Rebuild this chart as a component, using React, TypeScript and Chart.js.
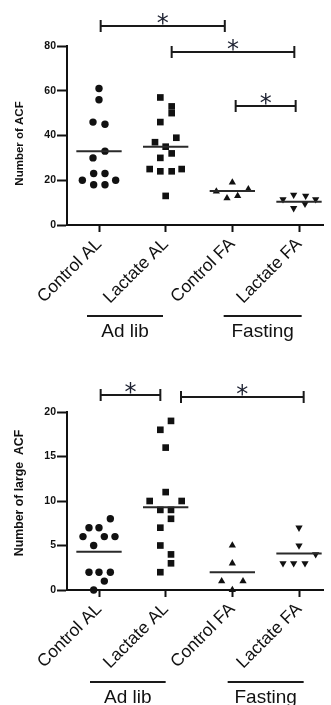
import React, { useEffect, useRef } from "react";
import { Chart, registerables } from "chart.js";

Chart.register(...registerables);

// ---------- data ----------
const categories = ["Control AL", "Lactate AL", "Control FA", "Lactate FA"];
const groupNames = ["Ad lib", "Fasting"];

// Chart 1: Number of ACF
const acfControlAL = [61, 56, 46, 45, 33, 30, 23, 23, 20, 20, 18, 18];
const acfLactateAL = [57, 53, 50, 46, 39, 37, 35, 32, 30, 25, 24, 24, 25, 13];
const acfControlFA = [19, 15, 16, 12, 13];
const acfLactateFA = [13.5, 11.5, 13, 11.5, 9.5, 7.5];
const acfMeans = [33, 35, 15.2, 10.4];
const acfYTicks = [0, 20, 40, 60, 80];

// horizontal jitter of each point (category units)
const acfJitterControlAL = [0, 0, -0.09, 0.09, 0.09, -0.09, -0.08, 0.09, -0.25, 0.25, -0.08, 0.09];
const acfJitterLactateAL = [-0.08, 0.09, 0.09, -0.08, 0.16, -0.16, 0, 0.09, -0.08, -0.24, -0.08, 0.09, 0.24, 0];
const acfJitterControlFA = [0, -0.24, 0.24, -0.08, 0.08];
const acfJitterLactateFA = [-0.08, -0.24, 0.1, 0.25, 0.09, -0.08];

// significance brackets: [from category, to category, y value]
const acfSig = [
  [1.025, 2.887, 89],
  [2.09, 3.93, 77.5],
  [3.05, 3.95, 53.4],
];

// Chart 2: Number of large ACF
const largeControlAL = [8, 7, 7, 6, 6, 6, 5, 2, 2, 2, 1, 0];
const largeLactateAL = [19, 18, 16, 11, 10, 10, 9, 9, 8, 7, 5, 4, 3, 2];
const largeControlFA = [5, 3, 1, 1, 0];
const largeLactateFA = [7, 5, 4, 3, 3, 3];
const largeMeans = [4.3, 9.3, 2.0, 4.1];
const largeYTicks = [0, 5, 10, 15, 20];

const largeJitterControlAL = [0.17, -0.15, 0, -0.24, 0.08, 0.24, -0.08, -0.15, 0, 0.17, 0.08, -0.08];
const largeJitterLactateAL = [0.08, -0.08, 0, 0, -0.24, 0.24, -0.08, 0.08, 0.08, -0.08, -0.08, 0.08, 0.08, -0.08];
const largeJitterControlFA = [0, 0, -0.16, 0.16, 0];
const largeJitterLactateFA = [0, 0, 0.25, -0.24, -0.08, 0.09];

const largeSig = [
  [1.025, 1.92, 21.9],
  [2.23, 4.07, 21.7],
];

// ---------- chart building ----------
const FONT = '"Liberation Sans", Arial, sans-serif';
const INK = "#111";

type Spec = {
  height: number;
  padTop: number;
  plotBottom: number;
  yMax: number;
  yTicks: number[];
  series: number[][];
  jitters: number[][];
  means: number[];
  sig: number[][];
  title: string;
  titleSize: number;
  titleX: number;
  titleY: number;
  groupSpans: number[][];
  groupOffset: number;
};

const styles = [
  { pointStyle: "circle", radius: 3.7, rotation: 0 },
  { pointStyle: "rect", radius: 4.7, rotation: 0 },
  { pointStyle: "triangle", radius: 4.2, rotation: 0 },
  { pointStyle: "triangle", radius: 4.2, rotation: 180 },
];

function buildConfig(spec: Spec): any {
  const datasets: any[] = [];
  spec.series.forEach((vals, i) => {
    const st = styles[i];
    datasets.push({
      type: "scatter",
      data: vals.map((v, j) => ({ x: i + 1 + spec.jitters[i][j], y: v })),
      pointStyle: st.pointStyle,
      pointRadius: st.radius,
      rotation: st.rotation,
      backgroundColor: INK,
      borderColor: INK,
      borderWidth: 0,
      clip: false,
      order: 1,
    });
  });
  spec.means.forEach((m, i) => {
    datasets.push({
      type: "line",
      data: [
        { x: i + 1 - 0.34, y: m },
        { x: i + 1 + 0.34, y: m },
      ],
      borderColor: "#2a2a2a",
      borderWidth: 2,
      pointRadius: 0,
      showLine: true,
      clip: false,
      order: 0,
    });
  });

  const annot = {
    id: "annot",
    afterDraw(chart: any) {
      const ctx = chart.ctx;
      const xs = chart.scales.x;
      const ys = chart.scales.y;
      const area = chart.chartArea;
      ctx.save();
      // significance brackets
      ctx.strokeStyle = "#1a1a1a";
      ctx.lineWidth = 2;
      spec.sig.forEach(([a, b, v]) => {
        const x1 = xs.getPixelForValue(a);
        const x2 = xs.getPixelForValue(b);
        const y = Math.round(ys.getPixelForValue(v));
        ctx.beginPath();
        ctx.moveTo(x1, y);
        ctx.lineTo(x2, y);
        ctx.moveTo(x1, y - 6);
        ctx.lineTo(x1, y + 6);
        ctx.moveTo(x2, y - 6);
        ctx.lineTo(x2, y + 6);
        ctx.stroke();
        ctx.font = '24px "DejaVu Sans", sans-serif';
        ctx.fillStyle = "#1c2030";
        ctx.textAlign = "center";
        ctx.textBaseline = "alphabetic";
        const m = ctx.measureText("*");
        const base = y - 1 - m.actualBoundingBoxDescent;
        ctx.fillText("*", (x1 + x2) / 2, base);
      });
      // group brackets
      const gy = area.bottom + spec.groupOffset;
      spec.groupSpans.forEach(([a, b], k) => {
        const x1 = xs.getPixelForValue(a);
        const x2 = xs.getPixelForValue(b);
        ctx.strokeStyle = "#1a1a1a";
        ctx.lineWidth = 2;
        ctx.beginPath();
        ctx.moveTo(x1, gy);
        ctx.lineTo(x2, gy);
        ctx.stroke();
        ctx.fillStyle = INK;
        ctx.font = `19px ${FONT}`;
        ctx.textAlign = "center";
        ctx.textBaseline = "alphabetic";
        ctx.fillText(groupNames[k], (x1 + x2) / 2, gy + 20.5);
      });
      // y title
      ctx.translate(spec.titleX, spec.titleY);
      ctx.rotate(-Math.PI / 2);
      ctx.font = `bold ${spec.titleSize}px ${FONT}`;
      ctx.fillStyle = INK;
      ctx.textAlign = "center";
      ctx.textBaseline = "middle";
      ctx.fillText(spec.title, 0, 0);
      ctx.restore();
    },
  };

  return {
    type: "scatter",
    data: { datasets },
    plugins: [annot],
    options: {
      animation: false,
      responsive: false,
      events: [],
      layout: { padding: { left: 0, right: 8, top: spec.padTop, bottom: 0 } },
      plugins: {
        legend: { display: false },
        tooltip: { enabled: false },
        title: { display: false },
      },
      scales: {
        x: {
          type: "linear",
          min: 0.52,
          max: 4.36,
          afterBuildTicks: (s: any) => {
            s.ticks = categories.map((_, i) => ({ value: i + 1 }));
          },
          afterFit: (s: any) => {
            s.height = spec.height - spec.plotBottom;
          },
          grid: {
            drawOnChartArea: false,
            drawTicks: true,
            tickLength: 7,
            tickWidth: 2,
            color: INK,
            tickColor: INK,
          },
          border: { display: true, width: 2, color: INK },
          ticks: {
            autoSkip: false,
            minRotation: 45,
            maxRotation: 45,
            padding: 2,
            color: INK,
            font: { family: FONT, size: 17.5 },
            callback: (v: any) => categories[Math.round(v) - 1] ?? "",
          },
        },
        y: {
          type: "linear",
          min: 0,
          max: spec.yMax,
          afterBuildTicks: (s: any) => {
            s.ticks = spec.yTicks.map((v) => ({ value: v }));
          },
          afterFit: (s: any) => {
            s.width = 67;
          },
          grid: {
            drawOnChartArea: false,
            drawTicks: true,
            tickLength: 10,
            tickWidth: 2,
            color: INK,
            tickColor: INK,
          },
          border: { display: true, width: 2, color: INK },
          ticks: {
            padding: 1,
            color: INK,
            font: { family: FONT, size: 10.5, weight: "bold" },
          },
        },
      },
    },
  };
}

const specTop: Spec = {
  height: 352,
  padTop: 46,
  plotBottom: 225,
  yMax: 80,
  yTicks: acfYTicks,
  series: [acfControlAL, acfLactateAL, acfControlFA, acfLactateFA],
  jitters: [acfJitterControlAL, acfJitterLactateAL, acfJitterControlFA, acfJitterLactateFA],
  means: acfMeans,
  sig: acfSig,
  title: "Number of ACF",
  titleSize: 11.5,
  titleX: 19.5,
  titleY: 143.5,
  groupSpans: [
    [0.82, 1.96],
    [2.87, 4.04],
  ],
  groupOffset: 91,
};

const specBottom: Spec = {
  height: 353,
  padTop: 60,
  plotBottom: 238,
  yMax: 20,
  yTicks: largeYTicks,
  series: [largeControlAL, largeLactateAL, largeControlFA, largeLactateFA],
  jitters: [largeJitterControlAL, largeJitterLactateAL, largeJitterControlFA, largeJitterLactateFA],
  means: largeMeans,
  sig: largeSig,
  title: "Number of large  ACF",
  titleSize: 12.3,
  titleX: 20,
  titleY: 141,
  groupSpans: [
    [0.865, 2.0],
    [2.93, 4.07],
  ],
  groupOffset: 92,
};

function Plot({ spec }: { spec: Spec }) {
  const ref = useRef<HTMLCanvasElement | null>(null);
  useEffect(() => {
    if (!ref.current) return;
    const chart = new Chart(ref.current, buildConfig(spec));
    return () => chart.destroy();
  }, [spec]);
  return (
    <canvas
      ref={ref}
      width={331}
      height={spec.height}
      style={{ display: "block", width: 331, height: spec.height }}
    />
  );
}

export default function App() {
  return (
    <div
      style={{
        position: "fixed",
        left: 0,
        top: 0,
        width: 331,
        height: 705,
        background: "#fff",
        overflow: "hidden",
      }}
    >
      <Plot spec={specTop} />
      <Plot spec={specBottom} />
    </div>
  );
}
